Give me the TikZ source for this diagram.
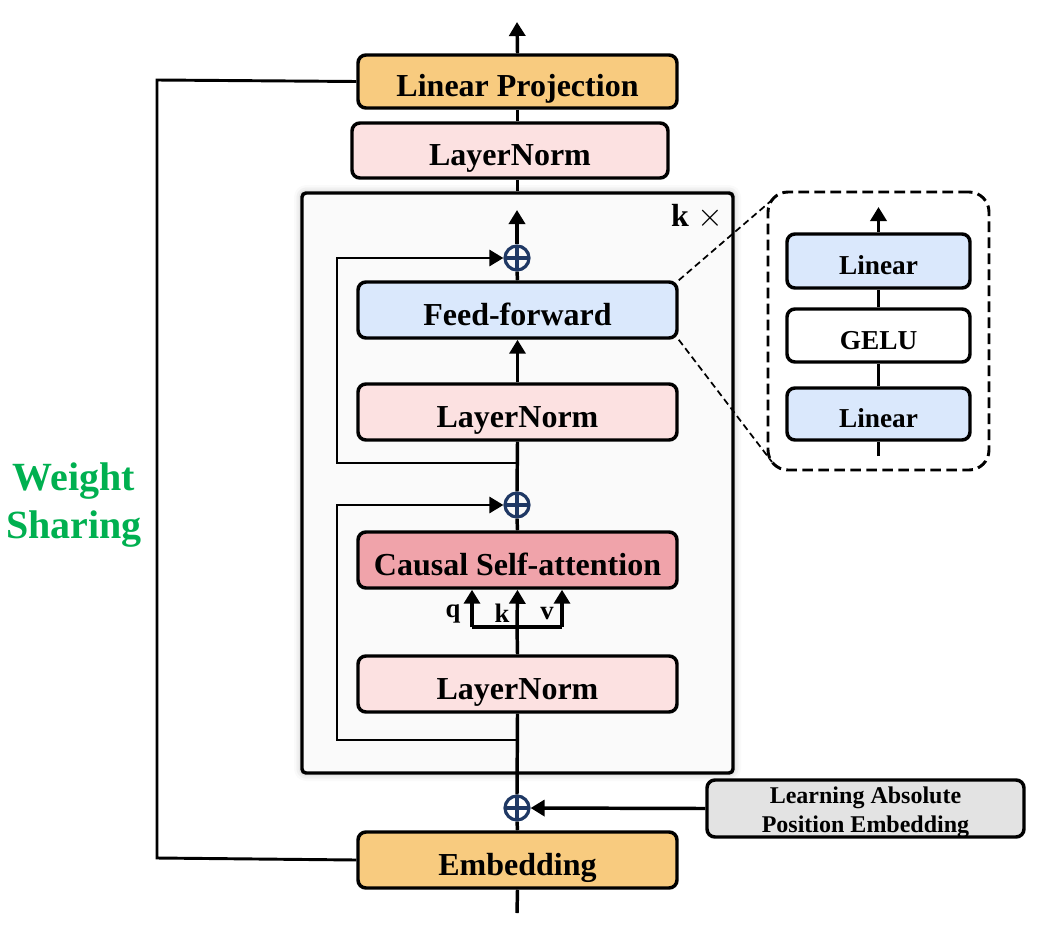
\documentclass[tikz,border=0pt]{standalone}
\usepackage{fontspec}
\setmainfont{Liberation Serif}
\usetikzlibrary{arrows.meta,shadows.blur,calc}
\definecolor{cOrange}{HTML}{F8CB7F}
\definecolor{cPink}{HTML}{FCE1E1}
\definecolor{cBlue}{HTML}{DAE8FC}
\definecolor{cRed}{HTML}{F0A3AA}
\definecolor{cGray}{HTML}{E3E3E3}
\definecolor{cNavy}{HTML}{1F3864}
\definecolor{cGreen}{HTML}{00B050}
\definecolor{cBlock}{HTML}{FAFAFA}
\tikzset{
  box/.style={draw=black, line width=2.6pt, rounded corners=6pt, align=center,
    font=\fontsize{24}{28}\selectfont\bfseries, inner sep=0pt},
  mainbox/.style={box, minimum width={319*0.75pt}, minimum height={56*0.75pt},
    text height=22.5pt, text depth=0pt},
  smallbox/.style={box, minimum width={183*0.75pt}, minimum height={53*0.75pt},
    font=\fontsize{20.5}{24}\selectfont\bfseries, text height=20.5pt, text depth=0pt},
  conn/.style={line width=2.6pt},
  arr/.style={conn, -{Triangle[length=10.5pt,width=12pt]}},
  thinconn/.style={line width=2.2pt},
  thinarr/.style={thinconn, -{Triangle[length=10.5pt,width=12pt]}},
  plus/.style={circle, draw=cNavy, line width=2.4pt, minimum size=18pt, inner sep=0pt,
    path picture={\draw[cNavy, line width=2.4pt]
      (path picture bounding box.north) -- (path picture bounding box.south)
      (path picture bounding box.west) -- (path picture bounding box.east);}},
  lbl/.style={font=\fontsize{20}{24}\selectfont\bfseries, inner sep=0pt}
}
\begin{document}
\begin{tikzpicture}[x=0.75pt,y=-0.75pt]
\useasboundingbox (0,0) rectangle (1063,931);
% big block
\node[draw=black, line width=2.6pt, rounded corners=3pt, fill=cBlock,
  blur shadow={shadow xshift=0pt, shadow yshift=0pt, shadow blur radius=6pt, shadow opacity=30},
  minimum width={431*0.75pt}, minimum height={580*0.75pt}, inner sep=0pt] (blk) at (517.5,483) {};
\node[font=\fontsize{24}{28}\selectfont, inner sep=0pt] (kx) at (697,217) {\textbf{k} $\times$};

% main boxes
\node[mainbox, fill=cOrange, minimum height={53*0.75pt}] (lp) at (517.5,81.5) {Linear Projection};
\node[mainbox, fill=cPink, minimum width={316*0.75pt}, minimum height={55*0.75pt}] (lnt) at (510,150.5) {LayerNorm};
\node[mainbox, fill=cBlue] (ff) at (517.5,310) {Feed-forward};
\node[mainbox, fill=cPink] (lnm) at (517.5,412) {LayerNorm};
\node[mainbox, fill=cRed] (csa) at (517.5,560) {Causal Self-attention};
\node[mainbox, fill=cPink] (lnb) at (517.5,684) {LayerNorm};
\node[mainbox, fill=cOrange] (emb) at (517.5,860) {Embedding};
\node[box, fill=cGray, minimum width={317*0.75pt}, minimum height={57*0.75pt}] (lape) at (865.5,808.5) {};
\node[align=center, inner sep=0pt, font=\fontsize{18}{21.5}\selectfont\bfseries] (lapet) at (865.5,812.5) {Learning Absolute\\Position Embedding};

% plus nodes
\node[plus] (p1) at (517,258) {};
\node[plus] (p2) at (517,505) {};
\node[plus] (p3) at (517,808) {};

% coordinates
\coordinate (top) at (517,22);
\coordinate (bot) at (517,913);
\coordinate (r1a) at (517,463);
\coordinate (r1b) at (337,463);
\coordinate (r1c) at (337,258);
\coordinate (r2a) at (517,740);
\coordinate (r2b) at (337,740);
\coordinate (r2c) at (337,505);
\coordinate (blkin) at (517,210);
\coordinate (ws1) at (157,858);
\coordinate (ws2) at (157,80);
\coordinate (qkvm) at (517,627);
\coordinate (qc) at (472,627);
\coordinate (vc) at (562,627);

% main axis
\draw[arr] (lp.north) -- (top);
\draw[conn] (lp.south) -- (lp.south |- lnt.north);
\draw[conn] (lp.south |- lnt.south) -- (lp.south |- blk.north);
\draw[arr] (p1.north) -- (blkin);
\draw[conn] (ff.north) -- (p1.south);
\draw[arr] (lnm.north) -- (ff.south);
\draw[conn] (p2.north) -- (lnm.south);
\draw[conn] (csa.north) -- (p2.south);
\draw[conn] (lnb.north) -- (qkvm);
\draw[conn] (qc) -- (vc);
\draw[arr] (qc) -- (qc |- csa.south);
\draw[arr] (qkvm) -- (csa.south);
\draw[arr] (vc) -- (vc |- csa.south);
\draw[conn] (lnb.south) -- (p3.north);
\draw[conn] (p3.south) -- (emb.north);
\draw[conn] (emb.south) -- (bot);
\draw[arr] (lape.west) -- (p3.east);

% residuals
\draw[thinarr] (r1a) -- (r1b) -- (r1c) -- (p1.west);
\draw[thinarr] (r2a) -- (r2b) -- (r2c) -- (p2.west);

% qkv labels
\node[lbl] (lq) at (453,614) {q};
\node[lbl] (lk) at (502,613) {k};
\node[lbl] (lv) at (547,614) {v};

% weight sharing
\draw[thinconn] (emb.west) -- (ws1) -- (ws2) -- (lp.west);
\node[font=\fontsize{30}{36}\selectfont\bfseries, text=cGreen, align=center, inner sep=0pt] (wsl) at (74,505) {Weight\\Sharing};

% FFN detail
\node[draw=black, line width=2.2pt, dash pattern=on 8pt off 4pt, rounded corners=15pt,
  minimum width={221*0.75pt}, minimum height={278*0.75pt}, inner sep=0pt] (db) at (878.5,331) {};
\node[smallbox, fill=cBlue, minimum height={54*0.75pt}] (lin2) at (878.5,261) {Linear};
\node[smallbox, fill=white] (gelu) at (878.5,335.5) {GELU};
\node[smallbox, fill=cBlue, minimum height={52*0.75pt}] (lin1) at (878.5,414) {Linear};
\coordinate (dtop) at (878.5,207);
\coordinate (dbot) at (878.5,456);
\draw[arr] (lin2.north) -- (dtop);
\draw[conn] (gelu.north) -- (lin2.south);
\draw[conn] (lin1.north) -- (gelu.south);
\draw[conn] (dbot) -- (lin1.south);
\coordinate (dl1) at (772,200);
\coordinate (dl2) at (772,462);
\draw[line width=1.3pt, dash pattern=on 5pt off 3pt] (ff.north east) -- (dl1);
\draw[line width=1.3pt, dash pattern=on 5pt off 3pt] (ff.south east) -- (dl2);
\end{tikzpicture}
\end{document}
